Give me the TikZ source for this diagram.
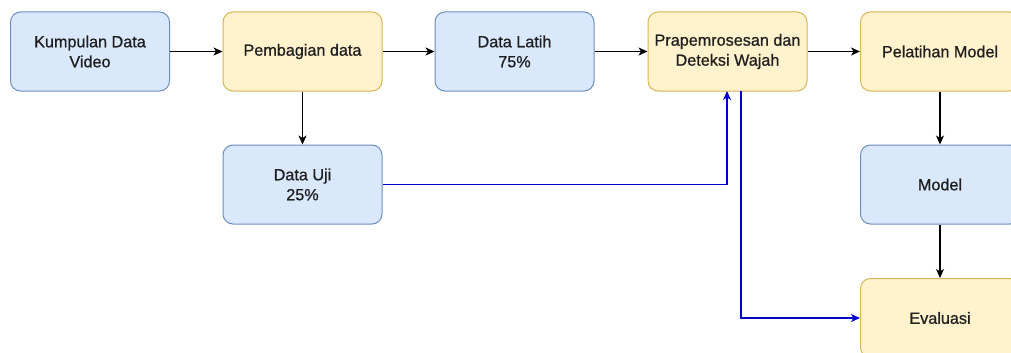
\documentclass[tikz,border=0pt]{standalone}
\usepackage{fontspec}
\setmainfont{Liberation Sans}[BoldFont={Liberation Sans},BoldFeatures={FakeBold=0.8}]
\usetikzlibrary{arrows.meta}
\definecolor{bluefill}{HTML}{DAE8FC}
\definecolor{bluedraw}{HTML}{6C8EBF}
\definecolor{yelfill}{HTML}{FFF2CC}
\definecolor{yeldraw}{HTML}{D6B656}
\definecolor{link}{HTML}{0000CC}
\tikzset{
  x=1pt, y=-1pt,
  box/.style={rounded corners=10pt, line width=1pt, minimum width=159pt,
    minimum height=79pt, align=center, font=\fontsize{16.2}{20}\selectfont\bfseries,
    text=black!88, inner sep=2pt},
  bluebox/.style={box, fill=bluefill, draw=bluedraw},
  yelbox/.style={box, fill=yelfill, draw=yeldraw},
  flow/.style={line width=1.2pt, -{Stealth[length=9pt,width=8pt,inset=2.5pt]}},
  bflow/.style={flow, draw=link, color=link},
}
\begin{document}
\begin{tikzpicture}
\useasboundingbox (0,0) rectangle (1011,353);
\clip (0,0) rectangle (1011,353);
\fill[white] (0,0) rectangle (1011,353);
% top row
\node[bluebox] (video) at (90,51.5) {Kumpulan Data\\Video};
\node[yelbox] (split) at (302.5,51.5) {Pembagian data};
\node[bluebox] (train) at (514.5,51.5) {Data Latih\\75\%};
\node[yelbox] (prep) at (727.5,51.5) {Prapemrosesan dan\\Deteksi Wajah};
\node[yelbox] (fit) at (940,51.5) {Pelatihan Model};
% lower rows
\node[bluebox] (test) at (302.5,184.5) {Data Uji\\25\%};
\node[bluebox] (model) at (940,184.5) {Model};
\node[yelbox] (eval) at (940,318) {Evaluasi};
% main flow
\draw[flow] (video) -- (split);
\draw[flow] (split) -- (train);
\draw[flow] (train) -- (prep);
\draw[flow] (prep) -- (fit);
\draw[flow] (split) -- (test);
\draw[flow] (fit) -- (model);
\draw[flow] (model) -- (eval);
% test data routing
\coordinate (tin) at (727,91);
\coordinate (tout) at (741,91);
\draw[bflow] (test.east) -| (tin);
\draw[bflow] (tout) |- (eval.west);
\end{tikzpicture}
\end{document}
